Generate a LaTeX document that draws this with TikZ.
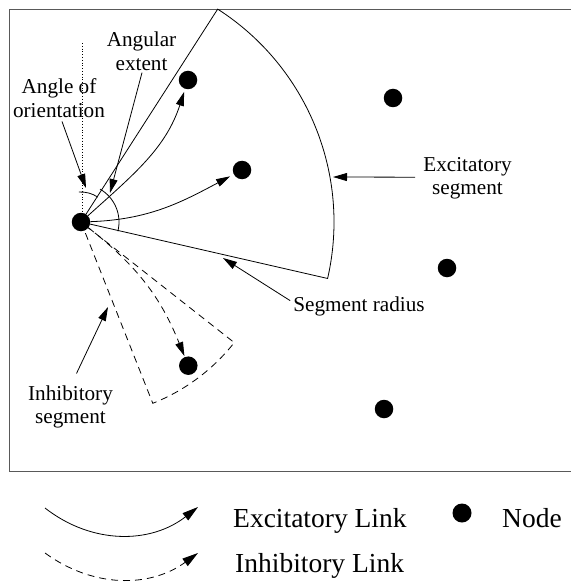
\documentclass[tikz,border=0pt]{standalone}
\usepackage{fontspec}
\setmainfont{Liberation Serif}
\usetikzlibrary{arrows.meta,calc}
\begin{document}
\begin{tikzpicture}[x=1bp,y=-1bp,
  dot/.style={circle,fill=black,inner sep=0pt,minimum size=18.5bp},
  lbl/.style={font=\fontsize{21.2bp}{23.4bp}\selectfont,align=center,inner sep=0pt},
  leg/.style={font=\fontsize{27.5bp}{30bp}\selectfont,inner sep=0pt},
  tip/.style={-{Triangle[length=14bp,width=8bp]}},
  bigtip/.style={-{Triangle[length=16bp,width=9bp]}},
  ln/.style={line width=0.8bp,black},
  dsh/.style={ln,dash pattern=on 7bp off 5bp},
  frame/.style={line width=1.4bp,black!65}]
\useasboundingbox (0,0) rectangle (571,585);
\draw[frame] (9.5,9.5) rectangle (576,471.5);
\coordinate (O) at (81,222);
% excitatory segment
\draw[ln] (O) -- ++(-57.3:253) arc[start angle=-57.3,end angle=12.9,radius=253] -- cycle;
% inhibitory segment
\draw[dsh] (O) -- ++(68.4:195) arc[start angle=68.4,end angle=38.2,radius=195] -- cycle;
% angle arcs and orientation reference
\draw[ln] (O) ++(-60:38) arc[start angle=-60,end angle=14,radius=38];
\draw[ln] (O) ++(-94:30) arc[start angle=-94,end angle=-56,radius=30];
\draw[line width=0.8bp,dotted] (82,43) -- (82,212);
% nodes
\node[dot] (o) at (O) {};
\node[dot] (n1) at (188,80) {};
\node[dot] (n2) at (242,170) {};
\node[dot] (n3) at (393,98) {};
\node[dot] (n4) at (447,268) {};
\node[dot] (n5) at (384,409) {};
\node[dot] (n6) at (188.3,365.7) {};
% links
\draw[ln,tip,shorten >=3bp] (o) to[out=42,in=-108] (n1);
\draw[ln,tip,shorten >=4bp] (o) to[out=2,in=-152] (n2);
\draw[dsh,tip,shorten >=1bp] (o) to[out=-38,in=112] (n6);
% labels
\node[lbl] (lang) at (141.5,51.3) {Angular\\extent};
\node[lbl] (lori) at (59,98) {Angle of\\orientation};
\node[lbl] (lexc) at (467.5,178.5) {Excitatory\\segment};
\node[lbl,anchor=base] (lrad) at (359,311.7) {Segment radius};
\node[lbl] (linh) at (70.5,407) {Inhibitory\\segment};
\coordinate (aang) at (110,193);
\coordinate (aori) at (86,188);
\coordinate (aexc) at (333,177);
\coordinate (arad) at (223,258);
\coordinate (ainh) at (108,307);
\draw[ln,tip] ($(lang.south)+(0.5,2)$) -- (aang);
\draw[ln,tip] ($(lori.south)+(3,4)$) -- (aori);
\draw[ln,tip] ($(lexc.west)+(-8,-1.3)$) -- (aexc);
\draw[ln,tip] ($(lrad.west)+(-3,-6)$) -- (arad);
\draw[ln,tip] ($(linh.north)+(6,-12)$) -- (ainh);
% legend
\coordinate (l1a) at (45,508);
\coordinate (l1b) at (198,507);
\coordinate (l2a) at (45,553);
\coordinate (l2b) at (198,553);
\draw[ln,bigtip] (l1a) to[out=-38,in=-142] (l1b);
\draw[dsh,bigtip] (l2a) to[out=-36,in=-144] (l2b);
\node[leg,anchor=base west] (tex) at (233,527) {Excitatory Link};
\node[leg,anchor=base west] (tinh) at (235,572) {Inhibitory Link};
\node[dot,minimum size=19bp] (ldot) at (462,513) {};
\node[leg,anchor=base west] (tnode) at (502,527) {Node};
\end{tikzpicture}
\end{document}
